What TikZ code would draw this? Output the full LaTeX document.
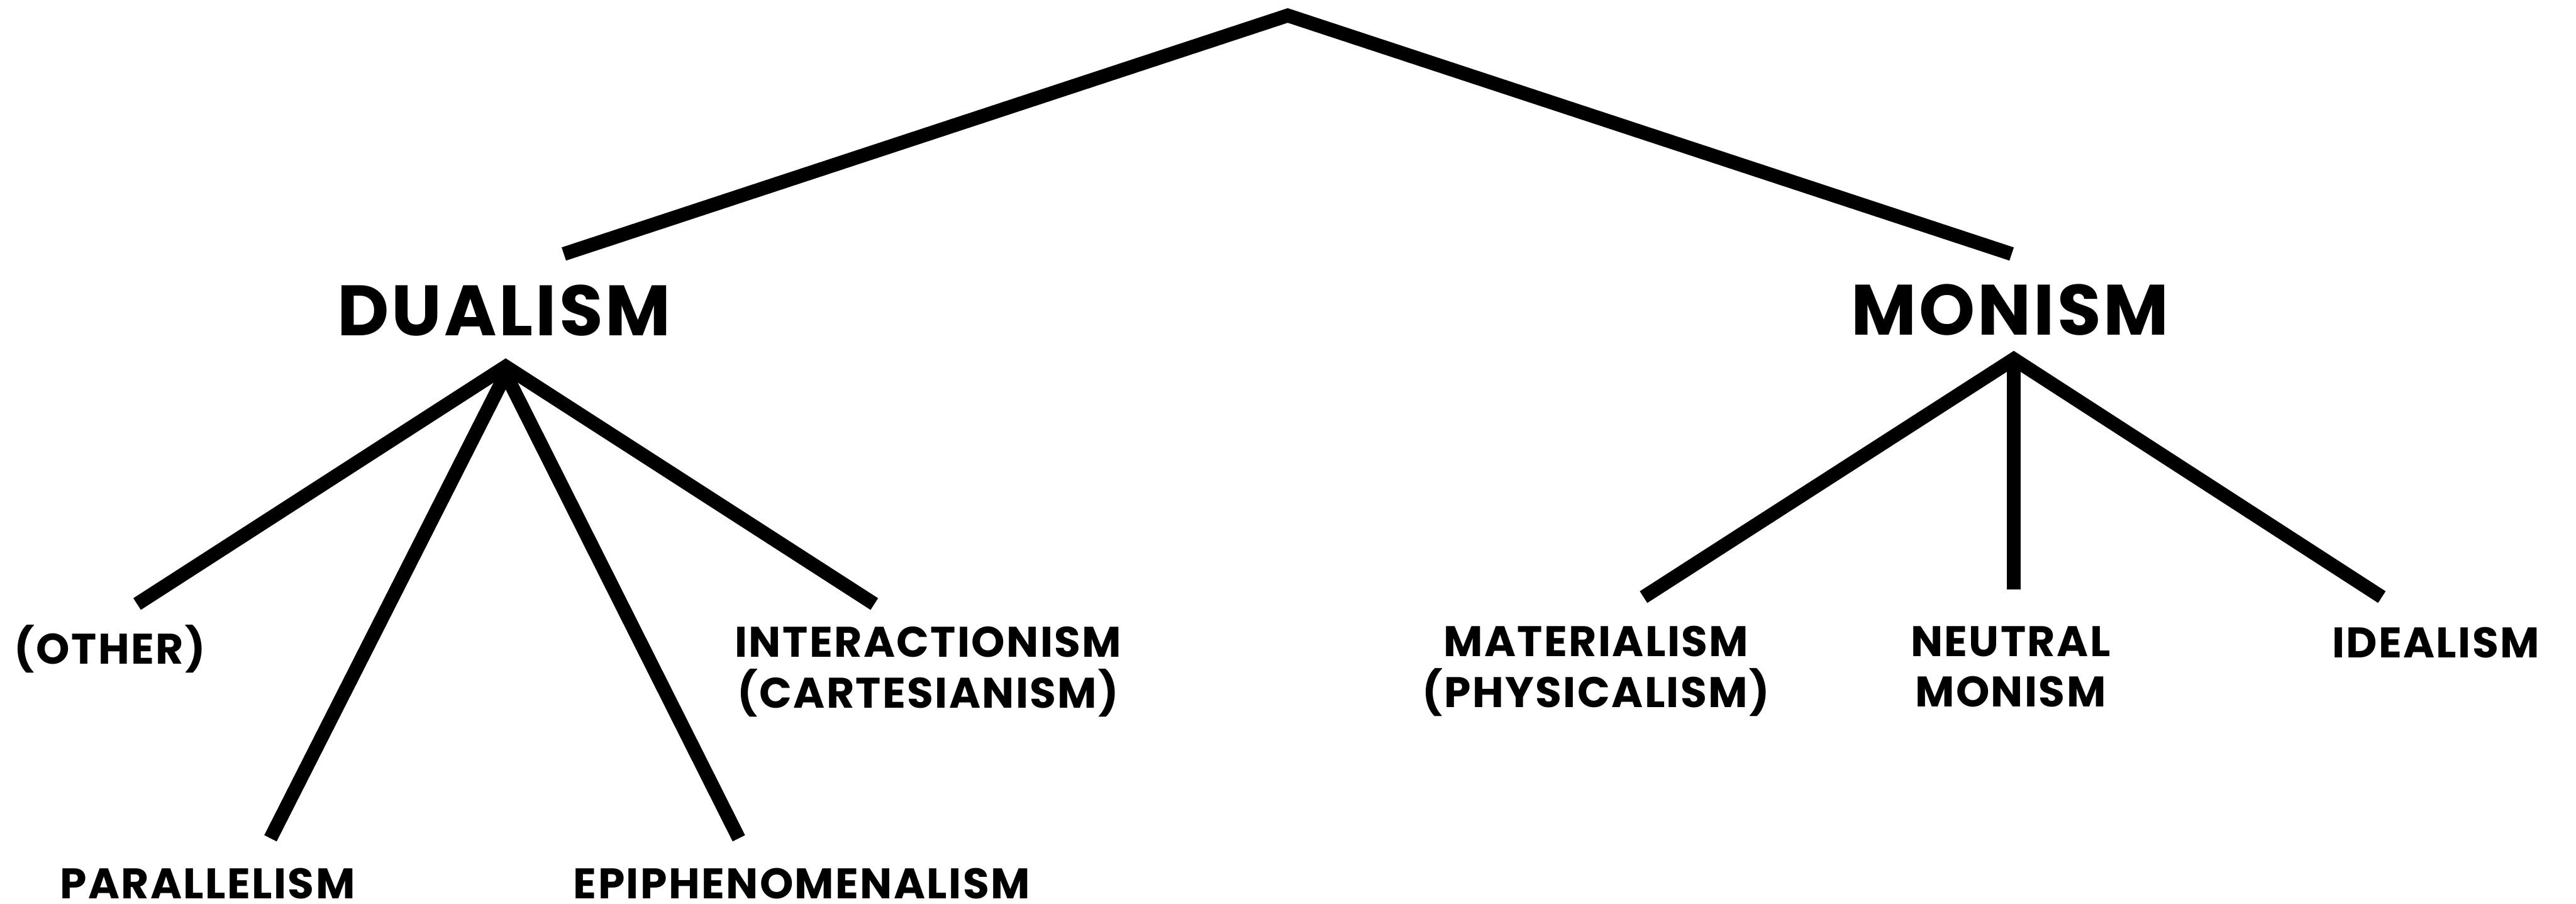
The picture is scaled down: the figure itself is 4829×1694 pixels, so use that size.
\documentclass[tikz,border=0pt]{standalone}
\usepackage{fontspec}
\setmainfont{Poppins}
\newfontfamily\treefont{Poppins}[LetterSpace=3.5]
\newcommand{\bigfont}{\treefont\fontsize{38}{46}\selectfont\bfseries}
\newcommand{\smallfont}{\treefont\fontsize{22.8}{27}\selectfont\bfseries}
\tikzset{
  branch/.style={line width=7.4pt, line join=miter},
  bigterm/.style={font=\bigfont, inner sep=0pt, anchor=base},
  term/.style={font=\smallfont, inner sep=0pt, anchor=base},
  twoline/.style={font=\smallfont, inner sep=0pt, align=center, anchor=north}
}

\begin{document}
\begin{tikzpicture}[x=0.01cm, y=-0.01cm]
    \useasboundingbox (0,0) rectangle (4829,1694);

    % Top split
    \coordinate (mind) at (2414,29);
    \coordinate (dualTop) at (1057,476);
    \coordinate (monTop) at (3771,476);
    \draw[branch] (dualTop) -- (mind) -- (monTop);

    % Dualism and its kinds
    \node[bigterm] (dualism) at (945,629) {DUALISM};
    \coordinate (dualFork) at (948,687);
    \coordinate (dualForkLow) at (948,701);
    \coordinate (otherEnd) at (257,1132);
    \coordinate (interEnd) at (1639,1132);
    \coordinate (paraEnd) at (507,1571);
    \coordinate (epiEnd) at (1385,1571);
    \draw[branch] (paraEnd) -- (dualForkLow) -- (epiEnd);
    \draw[branch] (otherEnd) -- (dualFork) -- (interEnd);
    \node[term] (other) at (206,1244) {(OTHER)};
    \node[twoline] (inter) at (1740,1174) {INTERACTIONISM\\(CARTESIANISM)};
    \node[term] (para) at (389,1684) {PARALLELISM};
    \node[term] (epi) at (1503,1684) {EPIPHENOMENALISM};

    % Monism and its kinds
    \node[bigterm] (monism) at (3768,628) {MONISM};
    \coordinate (monFork) at (3775,673);
    \coordinate (matEnd) at (3081,1119);
    \coordinate (neutEnd) at (3775,1105);
    \coordinate (ideaEnd) at (4465,1119);
    \draw[branch] (monFork) -- (neutEnd);
    \draw[branch] (matEnd) -- (monFork) -- (ideaEnd);
    \node[twoline] (mat) at (2992,1173) {MATERIALISM\\(PHYSICALISM)};
    \node[twoline] (neut) at (3769,1173) {NEUTRAL\\MONISM};
    \node[term] (idea) at (4566,1233) {IDEALISM};
\end{tikzpicture}
\end{document}
